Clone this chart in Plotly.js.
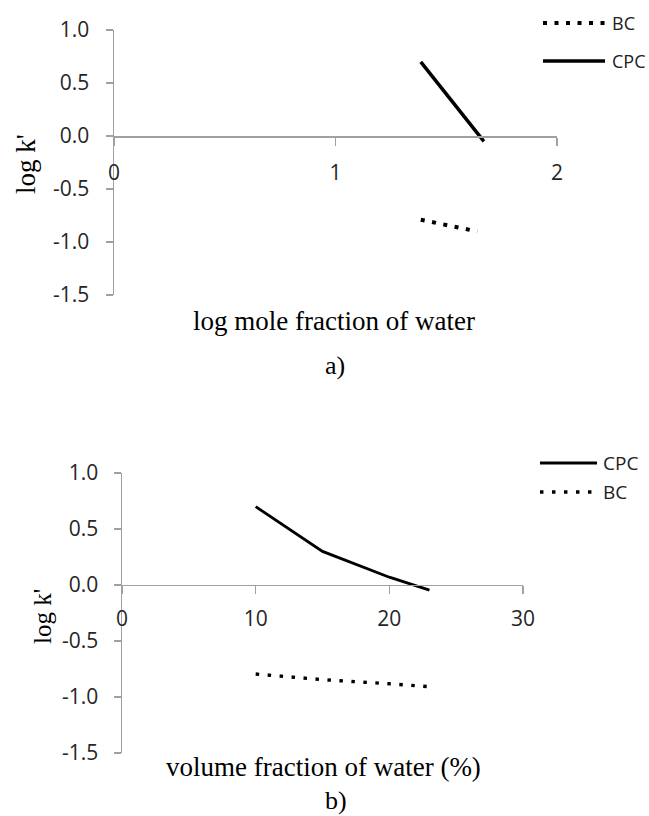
<!DOCTYPE html>
<html>
<head>
<meta charset="utf-8">
<script src="https://cdn.plot.ly/plotly-3.0.1.min.js"></script>
<style>html,body{margin:0;padding:0;background:#fff;}#chart{width:649px;height:816px;}</style>
</head>
<body>
<div id="chart"></div>
<script>
// ---- data ----
// a) log k' vs log mole fraction of water
const logMoleFracCPC = [1.385, 1.67];
const logkCPC_a = [0.70, -0.05];
const logMoleFracBC = [1.385, 1.64];
const logkBC_a = [-0.79, -0.90];
// b) log k' vs volume fraction of water (%)
const volFracWater = [10, 15, 20, 23];
const logkCPC_b = [0.70, 0.30, 0.07, -0.045];
const logkBC_b = [-0.795, -0.845, -0.882, -0.908];
// tick labels
const xTicksA = [0, 1, 2];
const xTicksB = [0, 10, 20, 30];
const yTicks = [-1.5, -1.0, -0.5, 0.0, 0.5, 1.0];
const yTickText = ['-1.5', '-1.0', '-0.5', '0.0', '0.5', '1.0'];
// legend entries (top-to-bottom order as in the picture)
const legendA = ['BC', 'CPC'];
const legendB = ['CPC', 'BC'];

const axisGray = '#a0a0a0';
const tickFont = {family: 'Open Sans', size: 21, color: '#262626'};
const serif = 'Liberation Serif';
const styles = {
  a: {BC: {color: '#000', width: 4, dash: '4px,7.5px'}, CPC: {color: '#000', width: 3.5}},
  b: {BC: {color: '#000', width: 3.4, dash: '3.5px,8.5px'}, CPC: {color: '#000', width: 2.8}}
};

const traces = [
  {x: logMoleFracBC, y: logkBC_a, name: 'BC', mode: 'lines', xaxis: 'x', yaxis: 'y', line: styles.a.BC},
  {x: logMoleFracCPC, y: logkCPC_a, name: 'CPC', mode: 'lines', xaxis: 'x', yaxis: 'y', line: styles.a.CPC},
  {x: volFracWater, y: logkCPC_b, name: 'CPC', mode: 'lines', xaxis: 'x2', yaxis: 'y2', line: styles.b.CPC},
  {x: volFracWater, y: logkBC_b, name: 'BC', mode: 'lines', xaxis: 'x2', yaxis: 'y2', line: styles.b.BC}
];

function xAxis(domain, range, ticks, pos, standoff) {
  return {domain: domain, range: range, anchor: 'free', position: pos,
    showline: true, linecolor: axisGray, linewidth: 1.5,
    ticks: 'outside', ticklen: 8, tickcolor: axisGray, tickwidth: 1.5,
    tickvals: ticks, ticktext: ticks.map(String), tickfont: tickFont,
    ticklabelstandoff: standoff, showgrid: false, zeroline: false, automargin: false, fixedrange: true};
}
function yAxis(domain, anchor, standoff) {
  return {domain: domain, range: [-1.5, 1.0], anchor: anchor,
    showline: true, linecolor: axisGray, linewidth: 1.5,
    ticks: 'outside', ticklen: 7, tickcolor: axisGray, tickwidth: 1.5,
    tickvals: yTicks, ticktext: yTickText, tickfont: tickFont,
    ticklabelstandoff: standoff, showgrid: false, zeroline: false, automargin: false, fixedrange: true};
}

// Excel-style legends with long keys (paper coordinates)
const shapes = [];
const legendAnnots = [];
function addLegend(names, style, keyX0, keyX1, textX, yTop, step, fontSize) {
  names.forEach(function (n, i) {
    const y = yTop - i * step;
    shapes.push({type: 'line', xref: 'paper', yref: 'paper', x0: keyX0, x1: keyX1, y0: y, y1: y, line: style[n]});
    legendAnnots.push({text: n, xref: 'paper', yref: 'paper', x: textX, y: y, showarrow: false,
      xanchor: 'left', yanchor: 'middle', font: {family: 'Open Sans', size: fontSize, color: '#202020'}});
  });
}
addLegend(legendA, styles.a, 0.8367, 0.9322, 0.9400, 0.9718, 0.0466, 18);
addLegend(legendB, styles.b, 0.8320, 0.9199, 0.9260, 0.4326, 0.0355, 19);

const layout = {
  width: 649, height: 816, autosize: false,
  margin: {l: 0, r: 0, t: 0, b: 0},
  paper_bgcolor: '#fff', plot_bgcolor: '#fff',
  showlegend: false,
  xaxis: xAxis([0.1757, 0.8582], [0, 2], xTicksA, 0.8333, 9),
  yaxis: yAxis([0.6385, 0.9632], 'x', 12),
  xaxis2: xAxis([0.1880, 0.8059], [0, 30], xTicksB, 0.2831, 6),
  yaxis2: yAxis([0.0772, 0.4203], 'x2', 11),
  shapes: shapes,
  annotations: [
    {text: "log k'", xref: 'paper', yref: 'paper', x: 0.040, y: 0.799, textangle: -90,
     showarrow: false, xanchor: 'center', yanchor: 'middle', font: {family: serif, size: 27, color: '#000'}},
    {text: 'log mole fraction of water', xref: 'paper', yref: 'paper', x: 0.5146, y: 0.607,
     showarrow: false, xanchor: 'center', yanchor: 'middle', font: {family: serif, size: 27, color: '#000'}},
    {text: 'a)', xref: 'paper', yref: 'paper', x: 0.516, y: 0.5515,
     showarrow: false, xanchor: 'center', yanchor: 'middle', font: {family: serif, size: 26, color: '#000'}},
    {text: "log k'", xref: 'paper', yref: 'paper', x: 0.0655, y: 0.2445, textangle: -90,
     showarrow: false, xanchor: 'center', yanchor: 'middle', font: {family: serif, size: 25, color: '#000'}},
    {text: 'volume fraction of water (%)', xref: 'paper', yref: 'paper', x: 0.4992, y: 0.060,
     showarrow: false, xanchor: 'center', yanchor: 'middle', font: {family: serif, size: 27, color: '#000'}},
    {text: 'b)', xref: 'paper', yref: 'paper', x: 0.5177, y: 0.0184,
     showarrow: false, xanchor: 'center', yanchor: 'middle', font: {family: serif, size: 26, color: '#000'}}
  ].concat(legendAnnots)
};

Plotly.newPlot('chart', traces, layout, {displayModeBar: false, staticPlot: true});
</script>
</body>
</html>
